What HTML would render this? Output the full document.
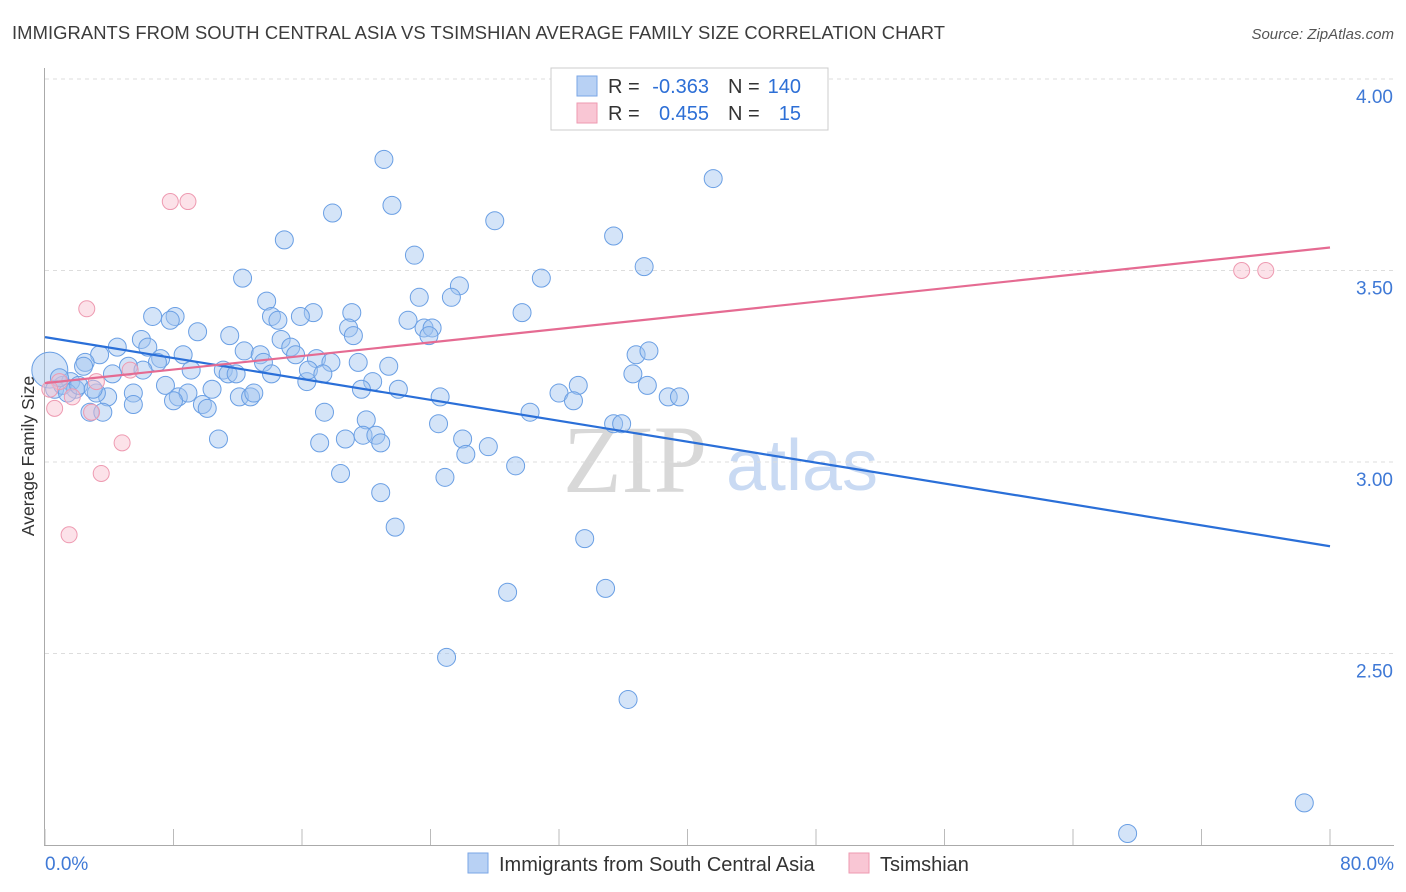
<!DOCTYPE html>
<html><head><meta charset="utf-8">
<style>
body{margin:0;background:#fff;font-family:"Liberation Sans",sans-serif;}
#wrap{position:relative;width:1406px;height:892px;overflow:hidden;}
</style></head>
<body>
<div id="wrap">
<svg id="chart" width="1406" height="892" xmlns="http://www.w3.org/2000/svg">
<text x="12" y="39" font-size="18.4" fill="#3c3c3c" textLength="933">IMMIGRANTS FROM SOUTH CENTRAL ASIA VS TSIMSHIAN AVERAGE FAMILY SIZE CORRELATION CHART</text>
<text x="1394" y="39" font-size="15" fill="#555" font-style="italic" text-anchor="end">Source: ZipAtlas.com</text>
<text x="34" y="456" font-size="17.5" fill="#333" text-anchor="middle" transform="rotate(-90 34 456)">Average Family Size</text>
<g>
<text x="635" y="492" font-size="96" fill="#d8d8d8" font-family="Liberation Serif,serif" text-anchor="middle">ZIP</text>
<text x="802" y="490" font-size="72" fill="#c9daf3" text-anchor="middle">atlas</text>
</g>
<g id="grid"></g><g id="axes"></g><g id="pts"></g><g id="lines"></g>
<g>
<rect x="551" y="68" width="277" height="62" fill="#fff" stroke="#ccc"/>
<rect x="577" y="76" width="20" height="20" fill="#b8d1f4" stroke="#7aa6e6"/>
<rect x="577" y="103" width="20" height="20" fill="#f9c6d4" stroke="#ee9ab1"/>
<text x="608" y="93" font-size="20" fill="#333">R =</text>
<text x="709" y="93" font-size="20" fill="#2d6fd6" text-anchor="end">-0.363</text>
<text x="728" y="93" font-size="20" fill="#333">N =</text>
<text x="801" y="93" font-size="20" fill="#2d6fd6" text-anchor="end">140</text>
<text x="608" y="120" font-size="20" fill="#333">R =</text>
<text x="709" y="120" font-size="20" fill="#2d6fd6" text-anchor="end">0.455</text>
<text x="728" y="120" font-size="20" fill="#333">N =</text>
<text x="801" y="120" font-size="20" fill="#2d6fd6" text-anchor="end">15</text>
</g>
<g>
<rect x="468" y="853" width="20" height="20" fill="#b8d1f4" stroke="#7aa6e6"/>
<text x="499" y="871" font-size="20" fill="#333">Immigrants from South Central Asia</text>
<rect x="849" y="853" width="20" height="20" fill="#f9c6d4" stroke="#ee9ab1"/>
<text x="880" y="871" font-size="20" fill="#333">Tsimshian</text>
</g>
</svg>
</div>
<script>
const yTicks=[4.0,3.5,3.0,2.5];
const yTickLabels=["4.00","3.50","3.00","2.50"];
const xTickVals=[0,8,16,24,32,40,48,56,64,72,80];
const xEndLabels=["0.0%","80.0%"];
const blueX=[21.1,21.6,17.9,28.0,41.6,35.4,14.9,37.3,23.0,30.9,12.3,25.8,25.3,23.3,13.8,19.1,29.7,6.7,8.1,7.8,14.1,16.7,15.9,14.5,22.6,23.6,24.1,23.9,18.9,19.2,9.5,11.5,6.0,4.5,6.4,3.4,8.6,12.4,13.4,14.7,15.3,15.6,16.9,17.8,19.5,21.4,36.8,37.6,2.5,2.4,7.2,7.0,4.2,5.2,6.1,9.1,11.1,11.4,11.9,13.6,14.1,16.3,16.4,17.3,20.4,19.7,22.0,36.6,37.5,33.2,32.0,32.9,38.8,39.5,24.6,17.4,20.0,30.2,7.5,8.3,8.9,10.4,9.8,10.1,12.1,12.8,13.0,8.0,5.5,3.9,3.2,5.5,2.8,3.6,35.4,35.9,24.5,10.8,17.1,18.7,19.8,20.6,20.9,26.0,26.2,27.6,29.3,18.4,24.9,20.9,21.8,33.6,28.8,34.9,25.0,36.3,78.4,67.4,0.3,0.6,1.1,1.6,1.9,1.4,2.1,3.0,0.9];
const blueY=[3.79,3.67,3.65,3.63,3.74,3.59,3.58,3.51,3.54,3.48,3.48,3.46,3.43,3.43,3.42,3.39,3.39,3.38,3.38,3.37,3.38,3.39,3.38,3.37,3.37,3.35,3.35,3.33,3.35,3.33,3.34,3.33,3.32,3.30,3.30,3.28,3.28,3.29,3.28,3.32,3.30,3.28,3.27,3.26,3.26,3.25,3.28,3.29,3.26,3.25,3.27,3.26,3.23,3.25,3.24,3.24,3.24,3.23,3.23,3.26,3.23,3.21,3.24,3.23,3.21,3.19,3.19,3.23,3.20,3.20,3.18,3.16,3.17,3.17,3.17,3.13,3.11,3.13,3.20,3.17,3.18,3.19,3.15,3.14,3.17,3.17,3.18,3.16,3.18,3.17,3.18,3.15,3.13,3.13,3.10,3.10,3.10,3.06,3.05,3.06,3.07,3.07,3.05,3.06,3.02,3.04,2.99,2.97,2.96,2.92,2.83,2.80,2.66,2.67,2.49,2.38,2.11,2.03,3.24,3.19,3.20,3.21,3.19,3.18,3.20,3.19,3.22];
const blueSize=blueX.map((v,i)=>i===118?2.0:1);
const pinkX=[7.8,8.9,2.6,5.3,3.2,0.6,2.9,4.8,3.5,1.5,74.5,76.0,0.9,1.7,0.3];
const pinkY=[3.68,3.68,3.40,3.24,3.21,3.14,3.13,3.05,2.97,2.81,3.50,3.50,3.21,3.17,3.19];
const blueTrend=[3.326,2.78];
const pinkTrend=[3.206,3.56];
const X0=45,X1=1330,Y4=79,PPU=383;
const sx=v=>X0+(v/80)*(X1-X0);
const sy=v=>Y4+(4-v)*PPU;
const NS="http://www.w3.org/2000/svg";
function mk(tag,attrs,parent){const e=document.createElementNS(NS,tag);for(const k in attrs)e.setAttribute(k,attrs[k]);document.getElementById(parent).appendChild(e);return e;}
yTicks.forEach((t,i)=>{
 const g=mk('line',{x1:45,x2:1394,y1:sy(t),y2:sy(t),stroke:'#ddd','stroke-dasharray':'4,4'},'grid');
 
 
 const tx=mk('text',{x:1393,y:sy(t)+24,'font-size':19,fill:'#3f79d6','text-anchor':'end'},'grid');
 tx.textContent=yTickLabels[i];
 
 
});
const ax=mk('line',{x1:44.5,x2:44.5,y1:68,y2:845,stroke:'#aaa'},'axes');


const bx=mk('line',{x1:44,x2:1394,y1:845.5,y2:845.5,stroke:'#aaa'},'axes');


xTickVals.forEach(t=>{
 const l=mk('line',{x1:sx(t),x2:sx(t),y1:829,y2:845,stroke:'#bbb'},'axes');
 
 
});
[[0,'start',45],[80,'end',1394]].forEach((a,i)=>{
 const t=mk('text',{x:a[2],y:870,'font-size':19,fill:'#3f79d6','text-anchor':a[1]},'axes');
 t.textContent=xEndLabels[i];
 
 
});
blueX.forEach((x,i)=>{
 const c=mk('circle',{cx:sx(x),cy:sy(blueY[i]),r:9*blueSize[i],fill:'rgba(160,196,240,0.45)',stroke:'#6a9fe4','stroke-width':1},'pts');
 
 
});
pinkX.forEach((x,i)=>{
 const c=mk('circle',{cx:sx(x),cy:sy(pinkY[i]),r:8,fill:'rgba(249,190,206,0.45)',stroke:'#ee9ab1','stroke-width':1},'pts');
 
 
});
const bl=mk('line',{x1:sx(0),y1:sy(blueTrend[0]),x2:sx(80),y2:sy(blueTrend[1]),stroke:'#2a6fd8','stroke-width':2.2},'lines');


const pl=mk('line',{x1:sx(0),y1:sy(pinkTrend[0]),x2:sx(80),y2:sy(pinkTrend[1]),stroke:'#e56b92','stroke-width':2.2},'lines');


</script>
</body></html>
